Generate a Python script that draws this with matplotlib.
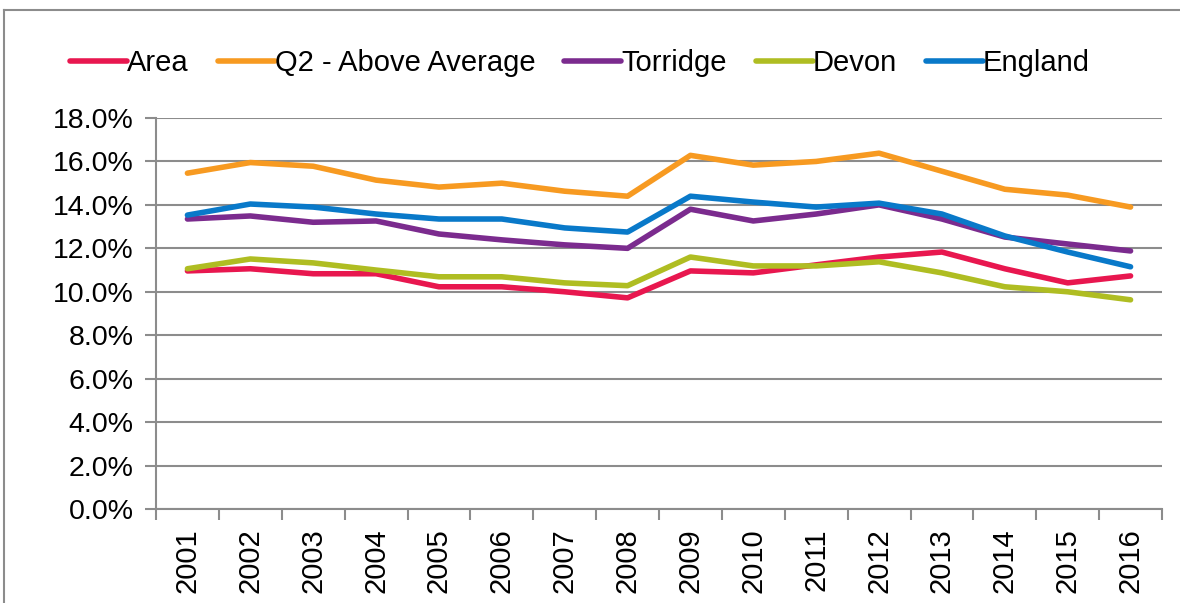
import matplotlib
matplotlib.use("Agg")
import matplotlib.pyplot as plt
from matplotlib.lines import Line2D
from matplotlib.ticker import FixedLocator, FuncFormatter

years = ["2001", "2002", "2003", "2004", "2005", "2006", "2007", "2008",
         "2009", "2010", "2011", "2012", "2013", "2014", "2015", "2016"]
area = [10.96, 11.06, 10.83, 10.83, 10.23, 10.23, 10.0, 9.72,
        10.96, 10.87, 11.24, 11.6, 11.83, 11.06, 10.41, 10.73]
q2_above = [15.46, 15.95, 15.78, 15.14, 14.82, 15.0, 14.63, 14.4,
            16.28, 15.83, 16.0, 16.38, 15.55, 14.72, 14.45, 13.9]
torridge = [13.35, 13.49, 13.2, 13.26, 12.66, 12.39, 12.16, 12.0,
            13.8, 13.26, 13.58, 14.0, 13.35, 12.52, 12.2, 11.88]
devon = [11.06, 11.51, 11.33, 11.0, 10.69, 10.69, 10.41, 10.28,
         11.6, 11.19, 11.19, 11.38, 10.87, 10.23, 10.0, 9.63]
england = [13.53, 14.04, 13.9, 13.58, 13.35, 13.35, 12.94, 12.75,
           14.4, 14.13, 13.9, 14.08, 13.58, 12.57, 11.83, 11.15]

series = [
    ("Area", area, "#E8174F"),
    ("Q2 - Above Average", q2_above, "#F79A21"),
    ("Torridge", torridge, "#7B2B8E"),
    ("Devon", devon, "#AFBD22"),
    ("England", england, "#0979C9"),
]

plt.rcParams['font.family'] = ['Liberation Sans', 'DejaVu Sans']
fs = 20.5

fig = plt.figure(figsize=(11.8, 6.03), dpi=100)
ax = fig.add_axes([156/1180, 1 - 509/603, (1162-156)/1180, (509-118)/603])

x = list(range(len(years)))
for name, vals, col in series:
    ax.plot(x, vals, color=col, lw=4, label=name, solid_capstyle='round',
            solid_joinstyle='round')

ax.set_xlim(-0.5, len(years) - 0.5)
ax.set_ylim(0, 18)
ax.set_yticks([0, 2, 4, 6, 8, 10, 12, 14, 16, 18])
ax.yaxis.set_major_formatter(FuncFormatter(lambda v, p: f"{v:.1f}%"))
ax.grid(axis='y', color='#8C8C8C', lw=1.5)
ax.set_axisbelow(True)

ax.set_xticks(x)
ax.set_xticklabels(years, rotation=90, fontsize=21)
ax.tick_params(axis='x', which='major', length=0, pad=14)
ax.xaxis.set_minor_locator(FixedLocator([i - 0.5 for i in range(len(years) + 1)]))
ax.tick_params(axis='x', which='minor', length=8, width=1.5, color='#8C8C8C')
ax.tick_params(axis='y', length=8, width=1.5, color='#8C8C8C', labelsize=fs, pad=8)

for s in ['top', 'right']:
    ax.spines[s].set_visible(False)
for s in ['left', 'bottom']:
    ax.spines[s].set_color('#8C8C8C')
    ax.spines[s].set_linewidth(1.5)

leg = fig.legend(loc='center', bbox_to_anchor=(580/1180, 1 - 63/603), ncol=5,
                 frameon=False, fontsize=21, handlelength=1.95, handletextpad=0.0,
                 columnspacing=1.0)
for h in leg.get_lines():
    h.set_linewidth(4)
    h.set_solid_capstyle('round')

# outer chart frame
fig.add_artist(Line2D([4/1180, 4/1180], [0, 1 - 10/603], transform=fig.transFigure,
                      color='#8C8C8C', lw=1.5))
fig.add_artist(Line2D([4/1180, 1], [1 - 10/603, 1 - 10/603], transform=fig.transFigure,
                      color='#8C8C8C', lw=1.5))

fig.savefig("out.png", dpi=100)
